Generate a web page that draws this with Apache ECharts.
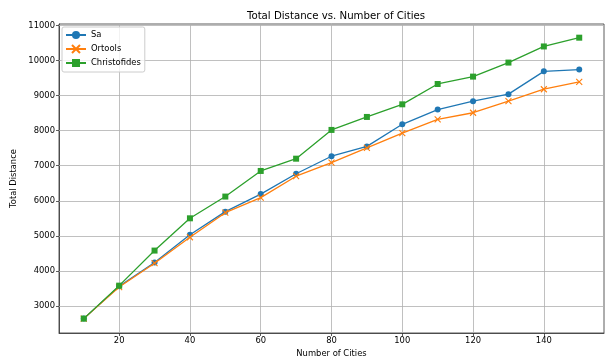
<!DOCTYPE html>
<html>
<head>
<meta charset="utf-8">
<script src="https://cdn.jsdelivr.net/npm/echarts@6/dist/echarts.min.js"></script>
<style>html,body{margin:0;padding:0;background:#fff;}#c{width:605px;height:360px;}</style>
</head>
<body>
<div id="c"></div>
<script>
const cities = [10, 20, 30, 40, 50, 60, 70, 80, 90, 100, 110, 120, 130, 140, 150];
const sa = [2640, 3560, 4240, 5030, 5690, 6190, 6770, 7270, 7550, 8180, 8600, 8840, 9040, 9690, 9740];
const ortools = [2640, 3540, 4220, 4960, 5660, 6090, 6700, 7090, 7510, 7930, 8320, 8510, 8840, 9180, 9390];
const christofides = [2640, 3580, 4580, 5500, 6120, 6850, 7200, 8020, 8390, 8750, 9330, 9540, 9940, 10400, 10650];
const xTicks = [20, 40, 60, 80, 100, 120, 140];
const yTicks = [3000, 4000, 5000, 6000, 7000, 8000, 9000, 10000, 11000];

const FONT = 'DejaVu Sans';
const pairs = arr => cities.map((c, i) => [c, arr[i]]);
const xMark = 'path://M0,0L10,10M10,0L0,10';

const chart = echarts.init(document.getElementById('c'), null, {renderer: 'canvas'});
chart.setOption({
  animation: false,
  textStyle: {fontFamily: FONT},
  title: {
    text: 'Total Distance vs. Number of Cities', left: 331, top: 6, textAlign: 'center',
    textStyle: {fontFamily: FONT, fontSize: 10.2, fontWeight: 'normal', color: '#000'}
  },
  legend: {
    left: 62, top: 27, orient: 'vertical', itemGap: 4, itemWidth: 20, itemHeight: 10,
    padding: [3, 4, 4, 3],
    borderColor: '#cccccc', borderWidth: 1, borderRadius: 2, backgroundColor: 'rgba(255,255,255,0.8)',
    textStyle: {fontFamily: FONT, fontSize: 8.4, color: '#000', lineHeight: 10},
    data: ['Sa', 'Ortools', 'Christofides']
  },
  grid: {left: 59, right: 1, top: 24, bottom: 27, show: true, borderColor: '#333', borderWidth: 0.8,
         outerBoundsMode: 'none', containLabel: false},
  xAxis: {
    type: 'value', min: 3, max: 157,
    name: 'Number of Cities', nameLocation: 'middle', nameGap: 14,
    nameTextStyle: {fontFamily: FONT, fontSize: 8.4, color: '#000'},
    axisLine: {show: true, lineStyle: {color: '#333', width: 0.8}},
    axisTick: {show: true, length: 3, customValues: xTicks, lineStyle: {color: '#333', width: 0.8}},
    axisLabel: {customValues: xTicks, fontFamily: FONT, fontSize: 8.4, color: '#000', margin: 4},
    splitLine: {show: false}
  },
  yAxis: {
    type: 'value', min: 2230, max: 11040,
    name: 'Total Distance', nameLocation: 'middle', nameGap: 31, nameRotate: 90,
    nameTextStyle: {fontFamily: FONT, fontSize: 8.4, color: '#000'},
    axisLine: {show: true, lineStyle: {color: '#333', width: 0.8}},
    axisTick: {show: true, length: 3, customValues: yTicks, lineStyle: {color: '#333', width: 0.8}},
    axisLabel: {customValues: yTicks, formatter: v => String(v), fontFamily: FONT, fontSize: 8.4, color: '#000', margin: 4},
    splitLine: {show: false}
  },
  series: [
    {
      name: 'Sa', type: 'line', data: pairs(sa), symbol: 'circle', symbolSize: 6,
      color: '#1f77b4', lineStyle: {width: 1.3}, itemStyle: {color: '#1f77b4'}, z: 3,
      markLine: {
        silent: true, symbol: 'none', label: {show: false}, z: 1,
        lineStyle: {color: '#b0b0b0', width: 0.8, type: 'solid'},
        data: xTicks.map(v => ({xAxis: v})).concat(yTicks.map(v => ({yAxis: v})))
      }
    },
    {
      name: 'Ortools', type: 'line', data: pairs(ortools), symbol: xMark, symbolSize: 6,
      color: '#ff7f0e', lineStyle: {width: 1.3},
      itemStyle: {color: '#ff7f0e', borderColor: '#ff7f0e', borderWidth: 1.1}, z: 4
    },
    {
      name: 'Christofides', type: 'line', data: pairs(christofides), symbol: 'rect', symbolSize: 6,
      color: '#2ca02c', lineStyle: {width: 1.3}, itemStyle: {color: '#2ca02c'}, z: 5
    }
  ]
});
</script>
</body>
</html>
